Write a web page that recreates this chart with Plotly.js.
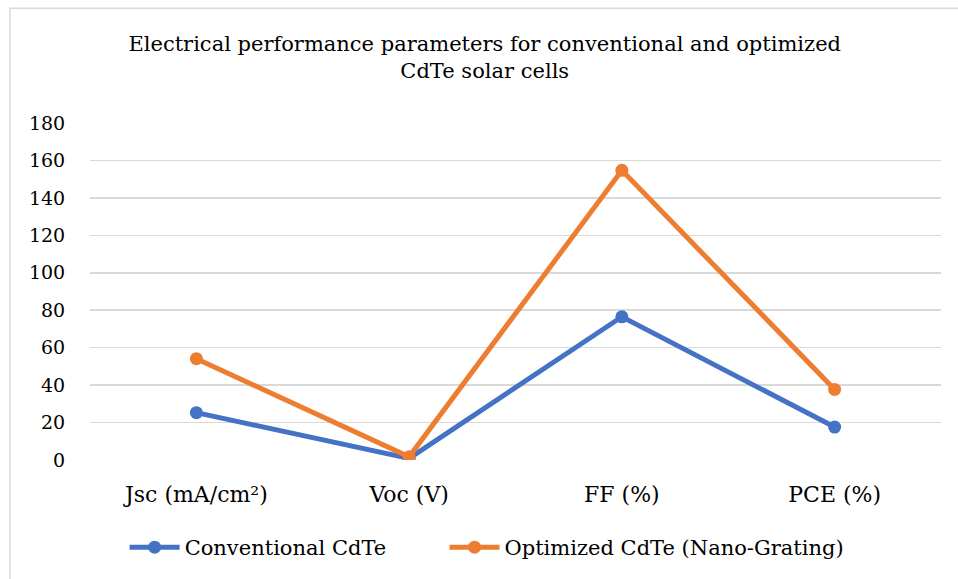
<!DOCTYPE html>
<html>
<head>
<meta charset="utf-8">
<script src="https://cdn.plot.ly/plotly-3.0.1.min.js"></script>
<style>
  html, body { margin: 0; padding: 0; background: #fff; }
  #chart { width: 958px; height: 579px; }
</style>
</head>
<body>
<div id="chart"></div>
<script>
const categories = ["Jsc (mA/cm²)", "Voc (V)", "FF (%)", "PCE (%)"];
const conventional = [25.3, 0.86, 76.5, 17.6];
const optimized = [54.1, 1.7, 154.7, 37.7];
const seriesNames = ["Conventional CdTe", "Optimized CdTe (Nano-Grating)"];
const yTicks = [0, 20, 40, 60, 80, 100, 120, 140, 160, 180];

const serif = "'DejaVu Serif', 'Liberation Serif', serif";

const traces = [
  {
    x: categories, y: conventional, name: seriesNames[0],
    type: "scatter", mode: "lines+markers",
    line: { color: "#4472C4", width: 5 },
    marker: { color: "#4472C4", size: 13 },
    legend: "legend"
  },
  {
    x: categories, y: optimized, name: seriesNames[1],
    type: "scatter", mode: "lines+markers",
    line: { color: "#ED7D31", width: 5 },
    marker: { color: "#ED7D31", size: 13 },
    legend: "legend2"
  }
];

const legendCommon = {
  orientation: "h", xanchor: "left",
  y: -0.256, yanchor: "middle",
  font: { family: serif, size: 21, color: "#000" },
  itemwidth: 50, bgcolor: "rgba(0,0,0,0)"
};

const layout = {
  width: 958, height: 579,
  paper_bgcolor: "#fff", plot_bgcolor: "#fff",
  margin: { l: 90, r: 17, t: 123, b: 118 },
  font: { family: serif, size: 19, color: "#000" },
  title: {
    text: "Electrical performance parameters for conventional and optimized<br>CdTe solar cells",
    font: { family: serif, size: 21, color: "#000" },
    x: 0.506, xanchor: "center", xref: "container",
    y: 1 - 51 / 579, yanchor: "top", yref: "container"
  },
  xaxis: {
    type: "category", range: [-0.5, 3.5],
    showgrid: false, zeroline: false, showline: false,
    ticks: "outside", ticklen: 15, tickcolor: "rgba(0,0,0,0)",
    tickfont: { family: serif, size: 22, color: "#000" }
  },
  yaxis: {
    range: [0, 180], tickvals: yTicks,
    showgrid: true, gridcolor: "#D9D9D9", gridwidth: 1.5,
    zeroline: false, showline: false,
    ticks: "outside", ticklen: 20, tickcolor: "rgba(0,0,0,0)",
    tickfont: { family: serif, size: 19, color: "#000" }
  },
  showlegend: true,
  legend: Object.assign({}, legendCommon, { x: 0.0407 }),
  legend2: Object.assign({}, legendCommon, { x: 0.4166 }),
  shapes: [{
    type: "rect", xref: "paper", yref: "paper",
    x0: -80 / 851, x1: 1 + 40 / 851,
    y0: -125 / 337.4, y1: 1 + 115 / 337.4,
    line: { color: "#D9D9D9", width: 1.5 }, layer: "below"
  }]
};

Plotly.newPlot("chart", traces, layout, { displayModeBar: false, staticPlot: true });
</script>
</body>
</html>
